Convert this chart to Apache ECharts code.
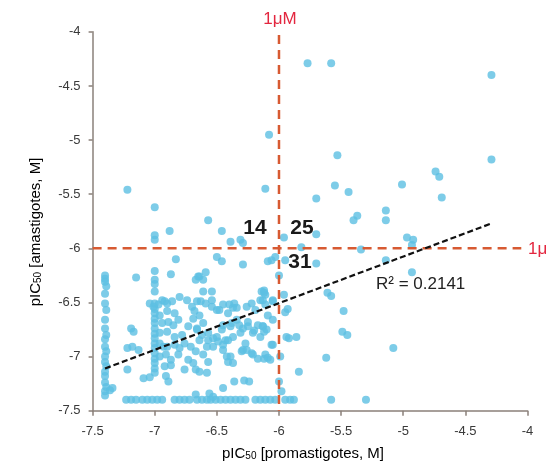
<!DOCTYPE html>
<html>
<head>
<meta charset="utf-8">
<script src="https://cdn.jsdelivr.net/npm/echarts@6/dist/echarts.min.js"></script>
<style>html,body{margin:0;padding:0;background:#fff;}#c{width:547px;height:466px;}</style>
</head>
<body>
<div id="c"></div>
<script>
// ---- data (pIC50 promastigotes, pIC50 amastigotes) ----
const upperPoints = [
  [-5.77,-4.29],[-5.58,-4.29],[-4.29,-4.40],[-6.08,-4.95],[-5.53,-5.14],[-4.29,-5.18],
  [-7.22,-5.46],[-7.00,-5.62],[-6.11,-5.45],[-6.57,-5.74],[-6.46,-5.84],[-6.88,-5.84],
  [-7.00,-5.88],[-7.00,-5.92],[-6.39,-5.94],[-6.31,-5.92],[-6.29,-5.95],
  [-5.70,-5.54],[-5.55,-5.42],[-5.44,-5.48],[-5.01,-5.41],[-4.74,-5.29],[-4.71,-5.34],[-4.69,-5.53],
  [-5.14,-5.65],[-5.14,-5.74],[-5.37,-5.70],[-5.40,-5.74],
  [-5.96,-5.90],[-5.82,-5.99],[-5.70,-5.87],[-4.97,-5.90],[-4.92,-5.92],[-4.93,-5.97]
];
const rightPoints = [
  [-5.34,-6.01],[-5.14,-6.11],[-4.93,-6.22],[-5.61,-6.41],[-5.58,-6.44],[-5.70,-6.14],
  [-5.95,-6.11],[-5.96,-6.43],[-5.93,-6.56],[-5.95,-6.59],[-5.48,-6.58],[-5.49,-6.77],
  [-5.45,-6.80],[-5.94,-6.82],[-5.92,-6.83],[-5.86,-6.82],[-5.08,-6.92],[-5.99,-7.00],
  [-5.62,-7.01],[-5.84,-7.14],[-5.98,-7.32],[-6.00,-6.25],[-6.00,-7.23]
];
const leftColumn = [
  [-7.40,-6.25],[-7.40,-6.28],[-7.40,-6.31],[-7.39,-6.35],[-7.40,-6.42],[-7.40,-6.51],
  [-7.39,-6.57],[-7.40,-6.66],[-7.40,-6.74],[-7.39,-6.80],[-7.40,-6.84],[-7.40,-6.91],
  [-7.39,-6.95],[-7.40,-7.00],[-7.40,-7.05],[-7.39,-7.09],[-7.40,-7.14],[-7.40,-7.18],
  [-7.40,-7.24],[-7.39,-7.28],[-7.40,-7.32],[-7.40,-7.36],[-7.36,-7.31],[-7.34,-7.29]
];
const bottomRow = [
  [-7.23,-7.40],[-7.19,-7.40],[-7.15,-7.40],[-7.10,-7.40],[-7.06,-7.40],[-7.02,-7.40],
  [-6.98,-7.40],[-6.94,-7.40],[-6.84,-7.40],[-6.80,-7.40],[-6.76,-7.40],[-6.72,-7.40],
  [-6.66,-7.40],[-6.62,-7.40],[-6.58,-7.40],[-6.55,-7.40],[-6.51,-7.40],[-6.47,-7.40],
  [-6.43,-7.40],[-6.39,-7.40],[-6.35,-7.40],[-6.31,-7.40],[-6.27,-7.40],[-6.19,-7.40],
  [-6.15,-7.40],[-6.11,-7.40],[-6.07,-7.40],[-6.03,-7.40],[-5.95,-7.40],[-5.91,-7.40],
  [-5.88,-7.40],[-5.58,-7.40],[-5.30,-7.40]
];
const columnSeven = [
  [-7.00,-6.21],[-7.00,-6.29],[-7.00,-6.33],[-7.00,-6.40],[-7.00,-6.51],[-7.00,-6.56],
  [-7.00,-6.60],[-7.00,-6.65],[-7.00,-6.69],[-7.00,-6.74],[-7.00,-6.79],[-7.00,-6.83],
  [-7.00,-6.88],[-7.00,-6.92],[-7.00,-6.97],[-7.00,-7.02],[-7.00,-7.06],[-7.00,-7.11],
  [-7.00,-7.15]
];
const densePoints = [
  [-6.97,-6.52],[-6.94,-6.48],[-6.90,-6.51],[-6.86,-6.49],
  [-6.96,-6.62],[-6.90,-6.58],[-6.84,-6.60],
  [-6.94,-6.69],[-6.89,-6.68],[-6.85,-6.71],[-6.81,-6.66],
  [-6.96,-6.78],[-6.90,-6.77],[-6.84,-6.82],[-6.78,-6.80],
  [-6.96,-6.88],[-6.90,-6.91],[-6.84,-6.89],[-6.80,-6.92],
  [-6.80,-6.45],[-6.74,-6.48],[-6.70,-6.54],[-6.66,-6.49],[-6.64,-6.62],[-6.69,-6.65],
  [-6.73,-6.72],[-6.66,-6.74],[-6.61,-6.69],[-6.57,-6.78],[-6.64,-6.85],[-6.58,-6.91],
  [-6.54,-6.54],[-6.50,-6.57],[-6.45,-6.52],[-6.41,-6.60],[-6.37,-6.55],[-6.34,-6.66],
  [-6.39,-6.72],[-6.46,-6.75],[-6.50,-6.82],[-6.43,-6.85],[-6.37,-6.82],[-6.31,-6.78],
  [-6.27,-6.88],[-6.26,-6.54],[-6.22,-6.51],[-6.19,-6.57],[-6.15,-6.48],[-6.11,-6.52],
  [-6.09,-6.62],[-6.05,-6.66],[-6.10,-6.75],[-6.15,-6.82],[-6.21,-6.78],[-6.25,-6.72],
  [-6.29,-6.94],[-6.53,-6.91],[-6.45,-6.94],[-6.39,-7.00],[-6.22,-6.97],[-6.17,-7.02],
  [-6.11,-6.98],[-6.07,-7.03],
  [-6.96,-7.00],[-6.91,-6.98],[-6.87,-7.03],[-6.81,-6.98],[-6.92,-7.09],[-6.87,-7.08],
  [-6.93,-6.91],[-6.76,-6.88],[-6.71,-6.91],
  [-6.83,-6.10],[-6.87,-6.24],[-7.15,-6.27],[-6.65,-6.26],[-6.50,-6.08],[-6.46,-6.12],
  [-6.29,-6.15],[-6.09,-6.12],[-6.06,-6.11],[-6.03,-6.08],[-6.59,-6.22],[-6.61,-6.29],
  [-6.64,-6.26],[-6.67,-6.29],[-6.61,-6.40],[-6.54,-6.40],[-6.63,-6.49],[-6.59,-6.51],
  [-6.54,-6.48],[-6.48,-6.57],[-6.40,-6.52],[-6.36,-6.51],[-6.34,-6.55],[-6.14,-6.40],
  [-6.11,-6.43],[-6.13,-6.48],[-6.05,-6.48],[-6.68,-6.58],
  [-7.04,-6.51],[-7.01,-6.54],[-6.92,-6.49],
  [-7.19,-6.74],[-7.17,-6.77],[-7.22,-6.92],[-7.18,-6.91],[-7.13,-6.94],[-7.22,-7.12],
  [-7.09,-7.20],[-7.04,-7.19],[-6.91,-7.18],[-6.89,-7.23],[-6.76,-7.12],[-6.73,-7.03],
  [-6.69,-7.06],
  [-6.67,-6.95],[-6.61,-6.98],[-6.57,-7.05],[-6.42,-7.00],[-6.41,-7.05],[-6.37,-7.06],
  [-6.30,-6.95],[-6.26,-6.94],[-6.21,-6.98],[-6.12,-7.02],[-6.67,-7.12],[-6.64,-7.14],
  [-6.58,-7.15],[-6.36,-7.23],[-6.28,-7.22],[-6.24,-7.23],[-6.45,-7.29],[-6.67,-7.35],
  [-6.56,-7.34],[-6.53,-7.37],[-6.05,-6.89],
  [-6.45,-6.71],[-6.38,-6.69],[-6.32,-6.71],[-6.25,-6.68],[-6.17,-6.71],[-6.13,-6.72],
  [-6.66,-6.75],[-6.62,-6.80],[-6.57,-6.85],[-6.53,-6.83],[-6.49,-6.86],[-6.45,-6.89],
  [-6.41,-6.85],[-6.29,-6.74],[-6.20,-6.76],
  [-6.12,-6.41],[-6.12,-6.39],[-6.05,-6.49],[-6.13,-6.72],[-6.12,-6.77],[-6.06,-6.89],
  [-6.09,-7.01]
];
const trendX = [-7.40, -4.29];
const trendY = [-7.11, -5.77];
const thresholdX = -6;
const thresholdY = -6;
const thresholdLabel = '1μM';
const quadrantCounts = ['14', '25', '31'];
const r2Text = 'R² = 0.2141';
const axisMin = -7.5, axisMax = -4, axisStep = 0.5;

const allPoints = upperPoints.concat(rightPoints, leftColumn, bottomRow, columnSeven, densePoints);

const chart = echarts.init(document.getElementById('c'), null, {renderer: 'canvas'});
const dash = {color: '#d75a32', width: 2.5, type: [9, 6]};
const option = {
  animation: false,
  backgroundColor: '#fff',
  grid: {left: 92.6, right: 19.5, top: 31.8, bottom: 55.3},
  xAxis: {
    type: 'value', min: axisMin, max: axisMax, interval: axisStep,
    splitLine: {show: false},
    axisLine: {onZero: false, lineStyle: {color: '#8a807a', width: 1.5}},
    axisTick: {show: true, length: 5, lineStyle: {color: '#8a807a', width: 1.5}},
    axisLabel: {color: '#3a3a3a', fontSize: 13, fontFamily: 'Liberation Sans', margin: 14}
  },
  yAxis: {
    type: 'value', min: axisMin, max: axisMax, interval: axisStep,
    splitLine: {show: false},
    axisLine: {show: true, onZero: false, lineStyle: {color: '#8a807a', width: 1.5}},
    axisTick: {show: true, length: 4, lineStyle: {color: '#8a807a', width: 1.5}},
    axisLabel: {color: '#3a3a3a', fontSize: 13, fontFamily: 'Liberation Sans', margin: 12}
  },
  series: [
    {
      type: 'scatter', data: allPoints, symbolSize: 8, z: 2,
      itemStyle: {color: '#5cbfe2'}
    },
    {
      type: 'line', data: [[thresholdX, -4.03], [thresholdX, axisMin]], symbol: 'none', z: 3,
      lineStyle: dash, silent: true
    },
    {
      type: 'line', data: [[axisMin, thresholdY], [-4.05, thresholdY]], symbol: 'none', z: 3,
      lineStyle: dash, silent: true
    },
    {
      type: 'line', data: [[trendX[0], trendY[0]], [trendX[1], trendY[1]]], symbol: 'none', z: 4,
      lineStyle: {color: '#111', width: 2.2, type: [6, 3]}, silent: true
    }
  ],
  graphic: [
    {type: 'text', x: 280, y: 19, style: {text: thresholdLabel, font: '17px "Liberation Sans"', fill: '#e3263f', align: 'center', verticalAlign: 'middle', textAlign: 'center', textVerticalAlign: 'middle'}},
    {type: 'text', x: 528, y: 249, style: {text: thresholdLabel, font: '17px "Liberation Sans"', fill: '#e3263f', align: 'left', verticalAlign: 'middle', textAlign: 'left', textVerticalAlign: 'middle'}},
    {type: 'text', x: 255, y: 228, z: 10, style: {text: quadrantCounts[0], font: 'bold 21px "Liberation Sans"', fill: '#1a1a1a', align: 'center', verticalAlign: 'middle', textAlign: 'center', textVerticalAlign: 'middle'}},
    {type: 'text', x: 302, y: 228, z: 10, style: {text: quadrantCounts[1], font: 'bold 21px "Liberation Sans"', fill: '#1a1a1a', align: 'center', verticalAlign: 'middle', textAlign: 'center', textVerticalAlign: 'middle'}},
    {type: 'text', x: 300, y: 262, z: 10, style: {text: quadrantCounts[2], font: 'bold 21px "Liberation Sans"', fill: '#1a1a1a', align: 'center', verticalAlign: 'middle', textAlign: 'center', textVerticalAlign: 'middle'}},
    {type: 'text', x: 376, y: 284, z: 10, style: {text: r2Text, font: '17px "Liberation Sans"', fill: '#222', align: 'left', verticalAlign: 'middle', textAlign: 'left', textVerticalAlign: 'middle'}},
    {type: 'text', x: 303, y: 451, style: {
      text: '{a|pIC}{s|50}{a| [promastigotes, M]}', align: 'center', verticalAlign: 'middle', textAlign: 'center', textVerticalAlign: 'middle',
      rich: {a: {fontSize: 15, fontFamily: 'Liberation Sans', color: '#444', lineHeight: 20, verticalAlign: 'bottom'},
             s: {fontSize: 10, fontFamily: 'Liberation Sans', color: '#444', lineHeight: 12, verticalAlign: 'bottom'}}
    }},
    {type: 'text', x: 33, y: 232, rotation: Math.PI / 2, style: {
      text: '{a|pIC}{s|50}{a| [amastigotes, M]}', align: 'center', verticalAlign: 'middle', textAlign: 'center', textVerticalAlign: 'middle',
      rich: {a: {fontSize: 15, fontFamily: 'Liberation Sans', color: '#444', lineHeight: 20, verticalAlign: 'bottom'},
             s: {fontSize: 10, fontFamily: 'Liberation Sans', color: '#444', lineHeight: 12, verticalAlign: 'bottom'}}
    }}
  ]
};
chart.setOption(option);
</script>
</body>
</html>
